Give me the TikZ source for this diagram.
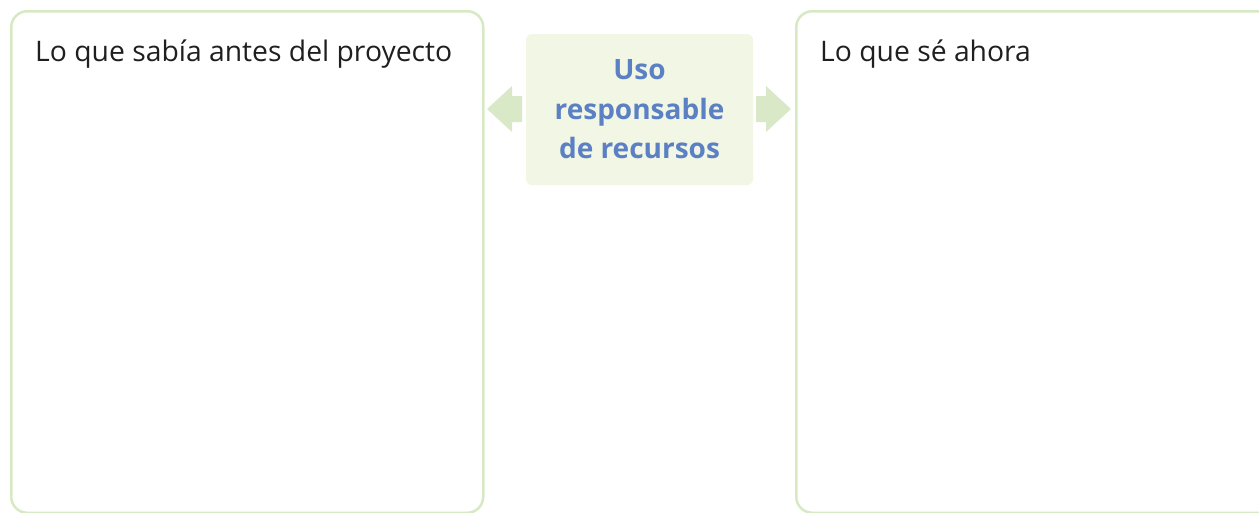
\documentclass[tikz,border=0pt]{standalone}
\usepackage{fontspec}
\setmainfont{Open Sans}
\definecolor{framegreen}{HTML}{D7E9C3}
\definecolor{panelfill}{HTML}{F2F6E4}
\definecolor{arrowgreen}{HTML}{D9E8C6}
\definecolor{usoblue}{HTML}{5B80C4}
\tikzset{
  frame/.style={draw=framegreen, line width=2.5pt, rounded corners=16pt, anchor=north west, inner sep=0pt, minimum height=501.5pt},
  heading/.style={anchor=base west, inner sep=0pt, font=\fontsize{28.3}{33}\selectfont, text=black!88},
  blockarrow/.style={fill=arrowgreen}
}
\begin{document}
\begin{tikzpicture}[x=1pt,y=-1pt]
\clip (0,0) rectangle (1259,512);
% the two frames, the right one runs off the page
\node [frame, minimum width=472pt] (antes) at (10,10) {};
\node [frame, minimum width=480pt] (ahora) at (795,10) {};
\node [heading] (antes-t) at (35,61) {Lo que sabía antes del proyecto};
\node [heading] (ahora-t) at (820,61) {Lo que sé ahora};
% middle panel
\node [fill=panelfill, rounded corners=6pt, minimum width=227pt, minimum height=151pt, align=center,
       text=usoblue, font=\bfseries\fontsize{28}{39.5}\selectfont] (uso) at (639.5,109.5)
      {Uso\\responsable\\de recursos};
% block arrows on both sides
\fill [blockarrow] (522,96) -- (512,96) -- (512,86) -- (487,109) -- (512,132) -- (512,122) -- (522,122) -- cycle; % left
\fill [blockarrow] (756,96) -- (766,96) -- (766,86) -- (791,109) -- (766,132) -- (766,122) -- (756,122) -- cycle; % right
\end{tikzpicture}
\end{document}
